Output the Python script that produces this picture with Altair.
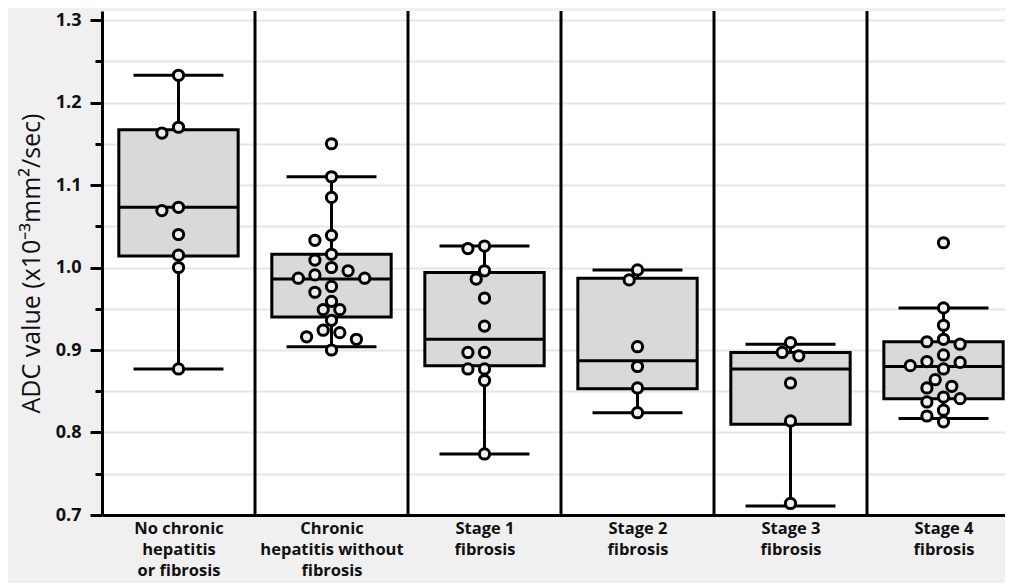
import math
import altair as alt
import pandas as pd

# ---------------- data ----------------
group_labels = [
    "No chronic|hepatitis|or fibrosis",
    "Chronic|hepatitis without|fibrosis",
    "Stage 1|fibrosis",
    "Stage 2|fibrosis",
    "Stage 3|fibrosis",
    "Stage 4|fibrosis",
]
whisker_low = [0.877, 0.904, 0.774, 0.824, 0.711, 0.817]
q1 = [1.014, 0.940, 0.881, 0.853, 0.810, 0.841]
median = [1.073, 0.986, 0.913, 0.887, 0.877, 0.880]
q3 = [1.167, 1.016, 0.994, 0.987, 0.897, 0.910]
whisker_high = [1.233, 1.110, 1.026, 0.997, 0.907, 0.951]

g1 = [1.233, 1.170, 1.163, 1.073, 1.069, 1.040, 1.015, 1.000, 0.877]
g2 = [1.150, 1.110, 1.085, 1.039, 1.033, 1.016, 1.009, 1.000, 0.996, 0.991,
      0.987, 0.987, 0.977, 0.970, 0.959, 0.949, 0.949, 0.936, 0.924, 0.921,
      0.916, 0.913, 0.900]
g3 = [1.026, 1.023, 0.996, 0.986, 0.963, 0.929, 0.897, 0.897, 0.877, 0.877,
      0.863, 0.774]
g4 = [0.997, 0.985, 0.904, 0.880, 0.854, 0.824]
g5 = [0.909, 0.897, 0.893, 0.860, 0.814, 0.714]
g6 = [1.030, 0.951, 0.930, 0.913, 0.910, 0.907, 0.894, 0.886, 0.885, 0.881,
      0.877, 0.864, 0.856, 0.854, 0.843, 0.841, 0.837, 0.827, 0.820, 0.813]
groups_points = [g1, g2, g3, g4, g5, g6]

y_ticks = [0.7, 0.75, 0.8, 0.85, 0.9, 0.95, 1.0, 1.05, 1.1, 1.15, 1.2, 1.25, 1.3]
separators = [1, 2, 3, 4, 5]

# ---------------- layout constants ----------------
LEFT_PAD = 94
TOP_PAD = 3
PLOT_W = 903
PLOT_H = 504
BOTTOM_PAD = 68
BAND_PX = 153.0
X_MAX = PLOT_W / BAND_PX
Y_MIN = 0.7
Y_MAX = 0.7 + PLOT_H / 825.0
PX_PER_Y = 825.0
BOX_HALF = 0.39
CAP_HALF = 0.294

# ---------------- tables ----------------
box_df = pd.DataFrame({
    "pos": [i + 0.5 for i in range(len(group_labels))],
    "lo": whisker_low, "q1": q1, "med": median, "q3": q3, "hi": whisker_high,
})

# simple beeswarm (dodge) layout computed from the values
rows = []
step_px = 8.3
min_dist = 11.5
for gi, vals in enumerate(groups_points):
    placed = []
    for v in sorted(vals, reverse=True):
        chosen = 0.0
        for k in [0, -1, 1, -2, 2, -3, 3, -4, 4]:
            off = k * step_px
            if all(math.hypot(off - o, (v - w) * PX_PER_Y) >= min_dist for o, w in placed):
                chosen = off
                break
        placed.append((chosen, v))
        rows.append({"pos": gi + 0.5 + chosen / BAND_PX, "value": v})
pts_df = pd.DataFrame(rows)
sep_df = pd.DataFrame({"sep": separators})

label_array = "[" + ",".join("'" + s + "'" for s in group_labels) + "]"

FONT = "Open Sans"

x_scale = alt.Scale(domain=[0, X_MAX], nice=False, zero=False)
y_scale = alt.Scale(domain=[Y_MIN, Y_MAX], nice=False, zero=False)

x_axis = alt.Axis(
    values=[i + 0.5 for i in range(len(group_labels))],
    labelExpr="split(" + label_array + "[floor(datum.value)], '|')",
    title=None, grid=False, ticks=False,
    domainColor="black", domainWidth=3,
    labelFont=FONT, labelFontSize=16.5, labelFontWeight="bold", labelColor="#111111",
    labelLineHeight=21, labelPadding=5, labelBaseline="top",
    labelOverlap=False, labelFlush=False, labelBound=False,
)

major_test = "abs(datum.value*10 - round(datum.value*10)) < 0.001"
y_axis = alt.Axis(
    values=y_ticks,
    labelExpr="(" + major_test + ") ? format(datum.value, '.1f') : ''",
    title="ADC value (x10\u207b\u00b3mm\u00b2/sec)",
    titleFont=FONT, titleFontSize=25, titleFontWeight=500, titleColor="#111111",
    titlePadding=11,
    grid=True, gridColor="#e6e6e6", gridWidth=2,
    domainColor="black", domainWidth=3,
    tickColor="black", tickWidth=3,
    tickSize={"condition": {"test": major_test, "value": 12}, "value": 7},
    labelFont=FONT, labelFontSize=18, labelFontWeight="bold", labelColor="#111111",
    labelPadding=9, labelOverlap=False,
)

base_box = alt.Chart(box_df).transform_calculate(
    left=f"datum.pos - {BOX_HALF}", right=f"datum.pos + {BOX_HALF}",
    cl=f"datum.pos - {CAP_HALF}", cr=f"datum.pos + {CAP_HALF}",
)

seps = alt.Chart(sep_df).mark_rule(color="black", strokeWidth=3).encode(
    x=alt.X("sep:Q", scale=x_scale, axis=x_axis),
)

whisk_low = base_box.mark_rule(color="black", strokeWidth=3).encode(
    x=alt.X("pos:Q", scale=x_scale, axis=x_axis),
    y=alt.Y("lo:Q", scale=y_scale, axis=y_axis), y2="q1:Q",
)
whisk_high = base_box.mark_rule(color="black", strokeWidth=3).encode(
    x=alt.X("pos:Q", scale=x_scale), y=alt.Y("q3:Q", scale=y_scale), y2="hi:Q",
)
cap_low = base_box.mark_rule(color="black", strokeWidth=3).encode(
    x=alt.X("cl:Q", scale=x_scale), x2="cr:Q", y=alt.Y("lo:Q", scale=y_scale),
)
cap_high = base_box.mark_rule(color="black", strokeWidth=3).encode(
    x=alt.X("cl:Q", scale=x_scale), x2="cr:Q", y=alt.Y("hi:Q", scale=y_scale),
)
boxes = base_box.mark_rect(fill="#d9d9d9", stroke="black", strokeWidth=3).encode(
    x=alt.X("left:Q", scale=x_scale), x2="right:Q",
    y=alt.Y("q1:Q", scale=y_scale), y2="q3:Q",
)
med = base_box.mark_rule(color="black", strokeWidth=3).encode(
    x=alt.X("left:Q", scale=x_scale), x2="right:Q", y=alt.Y("med:Q", scale=y_scale),
)
points = alt.Chart(pts_df).mark_point(
    filled=True, fill="#eeeeee", stroke="black", strokeWidth=3, size=105, opacity=1,
    shape="circle",
).encode(
    x=alt.X("pos:Q", scale=x_scale),
    y=alt.Y("value:Q", scale=y_scale),
)

chart = alt.layer(
    seps, whisk_low, whisk_high, cap_low, cap_high, boxes, med, points
).properties(
    width=PLOT_W, height=PLOT_H,
    autosize=alt.AutoSizeParams(type="none"),
    padding={"left": LEFT_PAD, "top": TOP_PAD, "right": 0, "bottom": BOTTOM_PAD},
    background="#f0f0f0",
).configure_view(fill="white", strokeWidth=0)

chart.save("out.html", embed_options={"renderer": "svg", "actions": False})
